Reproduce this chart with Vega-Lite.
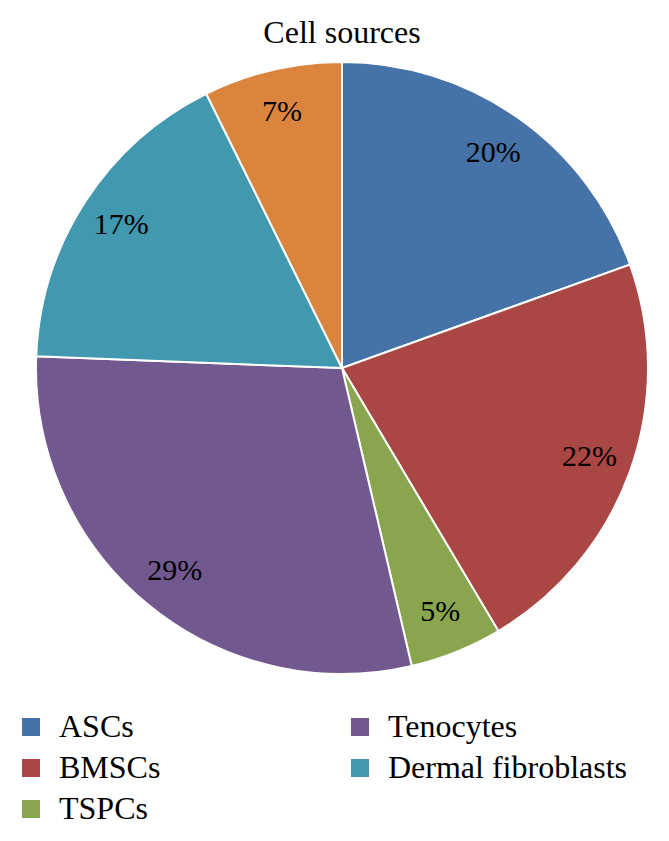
{
  "$schema": "https://vega.github.io/schema/vega-lite/v6.json",
  "autosize": "none",
  "width": 654,
  "height": 626,
  "padding": {"left": 15, "top": 55, "right": 0, "bottom": 160},
  "background": "white",
  "title": {"text": "Cell sources", "font": "Liberation Serif", "fontSize": 32, "fontWeight": "normal", "color": "black", "anchor": "middle", "offset": 5},
  "data": {"values": [
    {"source": "ASCs", "n": 8, "label": "20%", "k": 1},
    {"source": "BMSCs", "n": 9, "label": "22%", "k": 2},
    {"source": "TSPCs", "n": 2, "label": "5%", "k": 3},
    {"source": "Tenocytes", "n": 12, "label": "29%", "k": 4},
    {"source": "Dermal fibroblasts", "n": 7, "label": "17%", "k": 5},
    {"source": "Others", "n": 3, "label": "7%", "k": 6}
  ]},
  "encoding": {
    "theta": {"field": "n", "type": "quantitative", "stack": true},
    "order": {"field": "k", "type": "quantitative"}
  },
  "layer": [
    {
      "mark": {"type": "arc", "outerRadius": 306, "stroke": "white", "strokeWidth": 2},
      "encoding": {
        "color": {
          "field": "source", "type": "nominal",
          "scale": {"domain": ["ASCs", "BMSCs", "TSPCs", "Tenocytes", "Dermal fibroblasts", "Others"],
                    "range": ["#4572A7", "#AA4643", "#89A54E", "#71588F", "#4198AF", "#DB843D"]},
          "legend": {
            "title": null,
            "orient": "none",
            "legendX": 0,
            "legendY": 656,
            "padding": 0,
            "columns": 2,
            "values": ["ASCs", "BMSCs", "TSPCs", "Tenocytes", "Dermal fibroblasts"],
            "symbolType": "square",
            "symbolSize": 324,
            "symbolStrokeWidth": 0,
            "symbolOpacity": 1,
            "labelFont": "Liberation Serif",
            "labelFontSize": 32,
            "labelColor": "black",
            "labelOffset": 12,
            "labelLimit": 400,
            "rowPadding": 9,
            "columnPadding": 183
          }
        }
      }
    },
    {
      "mark": {"type": "text", "radius": 263, "font": "Liberation Serif", "fontSize": 30, "color": "black"},
      "encoding": {"text": {"field": "label"}}
    }
  ]
}
